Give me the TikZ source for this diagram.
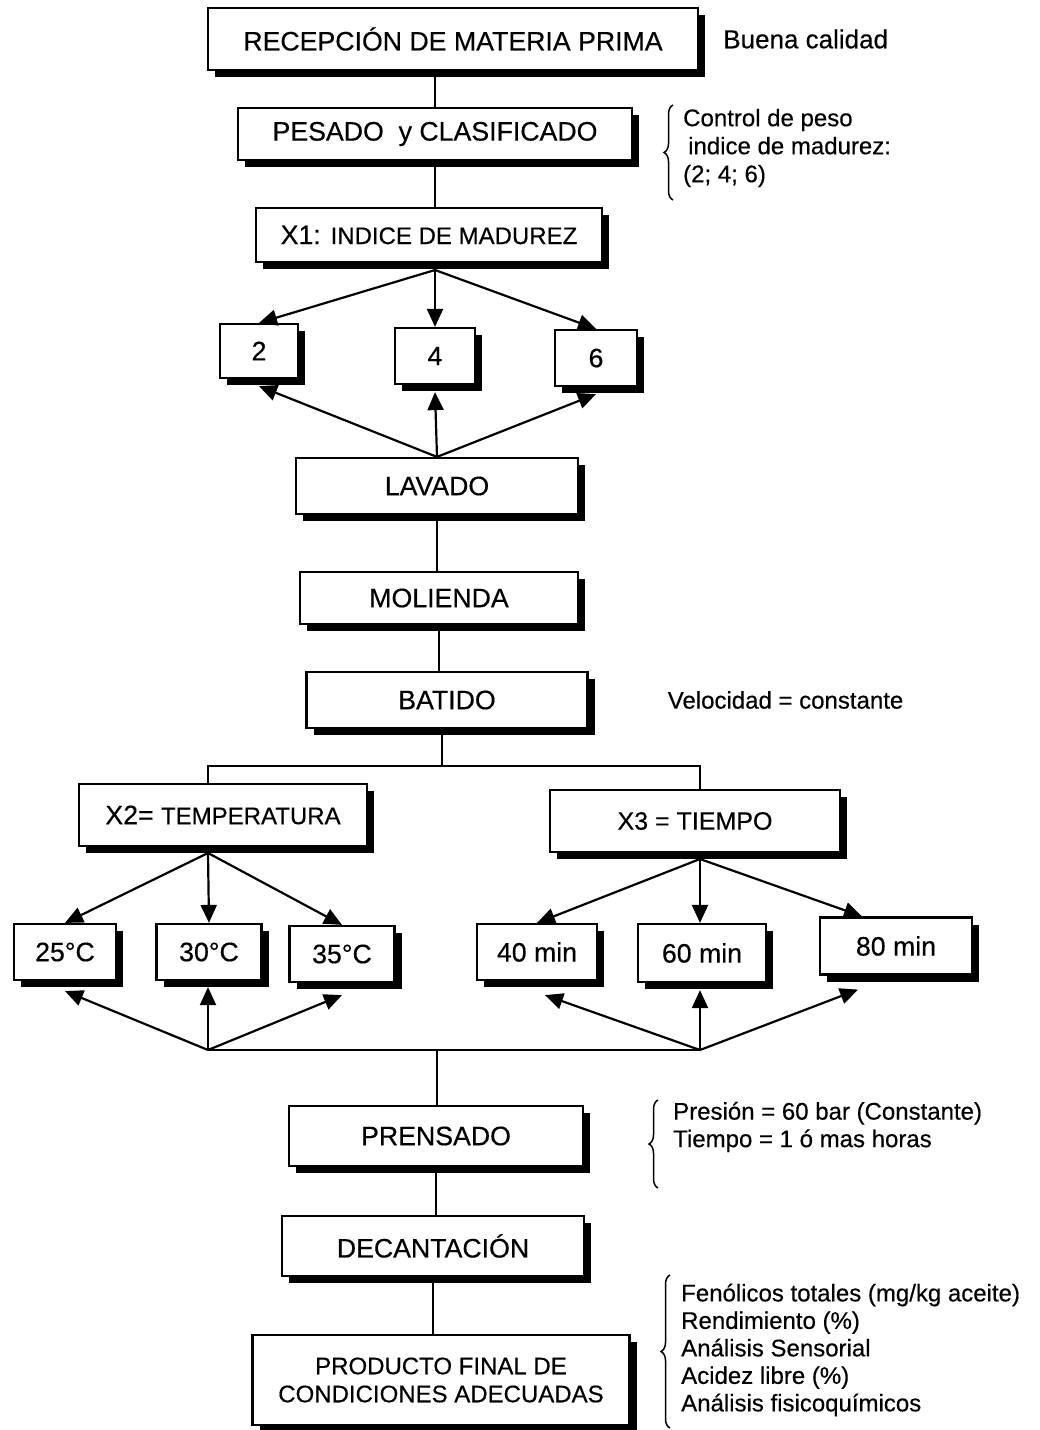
\documentclass[tikz,border=0pt]{standalone}
\usepackage{fontspec}
\setmainfont{Liberation Sans}[FakeBold=0.4]
\usetikzlibrary{positioning}
\usetikzlibrary{arrows.meta, shadows, decorations.pathreplacing}

\begin{document}
\begin{tikzpicture}
[
	x=1pt, y=-1pt,
	stage/.style={draw, rectangle, fill=white, line width=2.2pt, inner sep=2pt,
		font=\fontsize{26.7}{32}\selectfont,
		drop shadow={shadow xshift=7pt, shadow yshift=-7pt, fill=black, opacity=1}},
	size/.style 2 args={minimum width=#1pt, minimum height=#2pt},
	link/.style={line width=2.2pt},
	fan/.style={line width=2.2pt, -{Triangle[length=18pt, width=16pt]}},
	note/.style={align=left, inner sep=0pt, font=\fontsize{24}{27.5}\selectfont},
	bracket/.style={decorate, decoration={brace, amplitude=9pt}, line width=1.5pt}
  ]
	\useasboundingbox (0,0) rectangle (1040,1430);

	% main column
	\node[stage, size={490}{62}] (rec) at (453,39) {RECEPCIÓN DE MATERIA PRIMA};
	\node[stage, size={394}{52}] (pes) at (435,134) {PESADO\ \ y CLASIFICADO};
	\node[stage, size={346}{54}] (x1) at (429,235) {X1: {\fontsize{24}{28}\selectfont INDICE DE MADUREZ}};

	\node[stage, size={78}{54}] (n2) at (259,351) {2};
	\node[stage, size={80}{56}] (n4) at (435,356) {4};
	\node[stage, size={82}{56}] (n6) at (596,358) {6};

	\node[stage, size={282}{56}] (lav) at (437,486) {LAVADO};
	\node[stage, size={278}{52}] (mol) at (439,598) {MOLIENDA};
	\node[stage, size={281}{56}] (bat) at (447,700) {BATIDO};

	\node[stage, size={288}{62}] (x2) at (223,815) {X2= {\fontsize{24}{28}\selectfont TEMPERATURA}};
	\node[stage, size={290}{62}, font=\fontsize{25}{30}\selectfont] (x3) at (695,821) {X3 = TIEMPO};

	\node[stage, size={102}{56}] (c25) at (65,952) {25°C};
	\node[stage, size={105}{56}] (c30) at (209,952) {30°C};
	\node[stage, size={105}{56}] (c35) at (342,954) {35°C};
	\node[stage, size={120}{56}] (m40) at (537,952) {40 min};
	\node[stage, size={128}{58}] (m60) at (702,953) {60 min};
	\node[stage, size={152}{57}] (m80) at (896,946) {80 min};

	\node[stage, size={294}{60}] (pre) at (436,1136) {PRENSADO};
	\node[stage, size={302}{60}] (dec) at (433,1246) {DECANTACIÓN};
	\node[stage, size={377}{90}, align=center, font=\fontsize{24}{28}\selectfont] (prod) at (441,1380) {PRODUCTO FINAL DE\\CONDICIONES ADECUADAS};

	% hubs
	\coordinate (hubA) at (435,270);
	\coordinate (split) at (442,766);
	\coordinate (hubC) at (208,853);
	\coordinate (hubD) at (700,859);
	\coordinate (hubE) at (208,1050);
	\coordinate (hubF) at (700,1050);
	\coordinate (merge) at (437,1050);

	% straight links
	\draw[link] (pes.north) -- (pes.north |- rec.south);
	\draw[link] (pes.south) -- (pes.south |- x1.north);
	\draw[link] (lav.south) -- (lav.south |- mol.north);
	\draw[link] (mol.south) -- (mol.south |- bat.north);
	\draw[link] (split |- bat.south) -- (split);
	\draw[link] (hubC |- x2.north) |- (split) -| (hubD |- x3.north);
	\draw[link] (hubE) -- (hubF);
	\draw[link] (merge) -- (merge |- pre.north);
	\draw[link] (pre.south) -- (pre.south |- dec.north);
	\draw[link] (dec.south) -- (dec.south |- prod.north);

	% fans
	\foreach \n in {n2,n4,n6}
		\draw[fan] (hubA) -- (\n.north);
	\foreach \n in {n2,n4,n6}
		\draw[fan] (lav.north) -- ([yshift=-7pt]\n.south);
	\foreach \n in {c25,c30,c35}
		\draw[fan] (hubC) -- (\n.north);
	\draw[fan] (hubD) -- (m40.north);
	\draw[fan] (hubD) -- (m60.north -| hubD);
	\draw[fan] (hubD) -- ([xshift=-34pt]m80.north);
	\draw[fan] (hubE) -- ([yshift=-10pt]c25.south);
	\draw[fan] (hubE) -- ([yshift=-6pt]c30.south -| hubE);
	\draw[fan] (hubE) -- ([yshift=-12pt]c35.south);
	\draw[fan] (hubF) -- ([xshift=8pt, yshift=-14pt]m40.south);
	\draw[fan] (hubF) -- ([yshift=-7pt]m60.south -| hubF);
	\draw[fan] (hubF) -- ([xshift=-38pt, yshift=-14pt]m80.south);

	% notes
	\node[note, font=\fontsize{26}{30}\selectfont, right=24pt of rec] (buena) {Buena calidad};
	\draw[bracket] (673,200) -- (673,105);
	\node[note, font=\fontsize{24}{28}\selectfont, anchor=west] (ctrl) at (683,148) {Control de peso\\\hspace*{5pt}indice de madurez:\\(2; 4; 6)};
	\node[note, right=79pt of bat] (vel) {Velocidad = constante};
	\draw[bracket] (658,1188) -- (658,1100);
	\node[note, anchor=west] (pres) at (673,1127) {Presión = 60 bar (Constante)\\Tiempo = 1 ó mas horas};
	\draw[bracket] (670,1428) -- (670,1275);
	\node[note, anchor=west] (tests) at (681,1350) {Fenólicos totales (mg/kg aceite)\\Rendimiento (\%)\\Análisis Sensorial\\Acidez libre (\%)\\Análisis fisicoquímicos};
\end{tikzpicture}
\end{document}
